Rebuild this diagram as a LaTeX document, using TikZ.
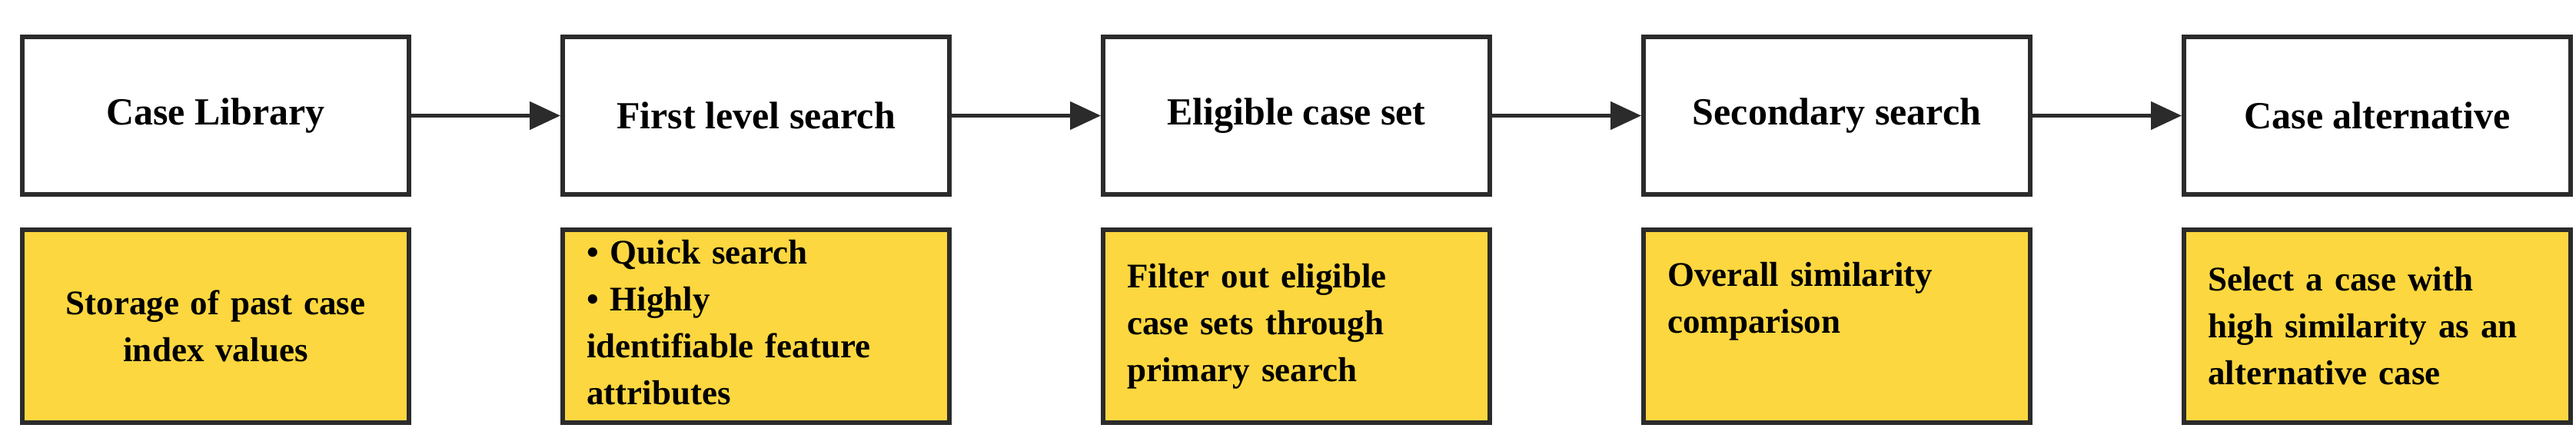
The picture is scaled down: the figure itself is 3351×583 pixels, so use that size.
\documentclass[tikz,border=0pt]{standalone}
\usepackage{fontspec}
\setmainfont{Liberation Serif}
\usetikzlibrary{arrows.meta}
\definecolor{yel}{HTML}{FDD73F}
\definecolor{edge}{HTML}{2B2B2B}
\begin{document}
\begin{tikzpicture}[x=1pt,y=-1pt,
  top/.style={draw=edge,line width=6pt,fill=white,minimum width=503pt,minimum height=205pt,inner sep=0pt,
    font=\fontsize{50}{58}\selectfont\bfseries},
  bot/.style={draw=edge,line width=6pt,fill=yel,minimum width=503pt,minimum height=251pt,inner sep=0pt},
  txt/.style={align=left,text width=460pt,font=\fontsize{45}{61}\selectfont\bfseries,inner sep=0pt},
  arr/.style={draw=edge,line width=5pt,-{Triangle[length=40pt,width=36pt]}}]
\useasboundingbox (0,0) rectangle (3351,583);
\foreach \i/\t in {1/Case Library,2/First level search,3/Eligible case set,4/Secondary search,5/Case alternative}{
  \node[top] (t\i) at ({280.5+703*(\i-1)},150.5) {\t};
  \node[bot] (b\i) at ({280.5+703*(\i-1)},424.5) {};
}
\foreach \a/\b in {1/2,2/3,3/4,4/5} \draw[arr] (t\a) -- (t\b);
\node[txt,align=center] (x1) at (b1) {Storage of past case\\index values};
\node[txt,anchor=north west] (x2) at ([xshift=34pt,yshift=-16pt]b2.north west) {\textbullet{} Quick search\\\textbullet{} Highly\\identifiable feature\\attributes};
\node[txt,anchor=west] (x3) at ([xshift=34pt]b3.west) {Filter out eligible\\case sets through\\primary search};
\node[txt,anchor=north west] (x4) at ([xshift=34pt,yshift=-45pt]b4.north west) {Overall similarity\\comparison};
\node[txt,anchor=west] (x5) at ([xshift=34pt]b5.west) {Select a case with\\high similarity as an\\alternative case};
\end{tikzpicture}
\end{document}
